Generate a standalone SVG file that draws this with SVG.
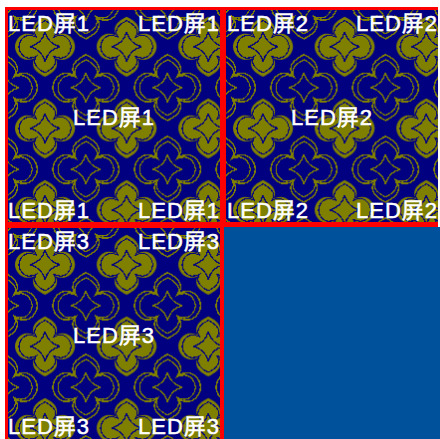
<svg xmlns="http://www.w3.org/2000/svg" width="440" height="439" viewBox="0 0 440 439">
<style>
text{font-family:"Liberation Sans","Noto Sans CJK SC",sans-serif;font-size:22px;fill:#fff;letter-spacing:1px;stroke:#fff;stroke-width:.5px}
.o{fill:none;stroke:#808000;stroke-width:1.3;shape-rendering:crispEdges}
.n{fill:none;stroke:#000080;stroke-width:1.3;shape-rendering:crispEdges}
</style>
<defs>
<path id="q" d="M0,-30C6,-27 12,-23 12,-17C12,-14 11,-13 10,-11C12,-12 14,-13 18,-13C25,-13 30,-6 30,0C30,6 25,13 18,13C14,13 12,12 10,11C11,13 12,14 12,17C12,23 6,27 0,30C-6,27 -12,23 -12,17C-12,14 -11,13 -10,11C-12,12 -14,13 -18,13C-25,13 -30,6 -30,0C-30,-6 -25,-13 -18,-13C-14,-13 -12,-12 -10,-11C-11,-13 -12,-14 -12,-17C-12,-23 -6,-27 0,-30Z"/>
<path id="s" d="M0,-15C2,-7 7,-2 15,0C7,2 2,7 0,15C-2,7 -7,2 -15,0C-7,-2 -2,-7 0,-15Z"/>
<g id="ring"><use href="#q" class="o" transform="scale(1.1)"/><use href="#q" class="o" transform="scale(.93)"/><use href="#s" class="o"/></g>
<pattern id="tile" width="81.67" height="81.67" patternUnits="userSpaceOnUse" x="8" y="10">
<rect width="82" height="82" fill="#000080"/>
<g transform="translate(37,36.7)">
<use href="#q" fill="#808000"/>
<use href="#q" class="n" transform="scale(.87)"/>
<use href="#s" class="n"/>
</g>
<use href="#ring" x="-3.8" y="-4.1"/>
<use href="#ring" x="77.87" y="-4.1"/>
<use href="#ring" x="-3.8" y="77.57"/>
<use href="#ring" x="77.87" y="77.57"/>
</pattern>
</defs>
<rect width="440" height="439" fill="#fff"/>
<rect x="5" y="7" width="433" height="432" fill="#ff0000"/>
<rect x="224" y="227" width="216" height="212" fill="#00519b"/>
<g id="screen1">
<rect x="8" y="10" width="212" height="212" fill="url(#tile)"/>
<text x="8" y="31">LED屏1</text><text x="138" y="31">LED屏1</text><text x="73" y="125">LED屏1</text><text x="8" y="218">LED屏1</text><text x="138" y="218">LED屏1</text>
</g>
<g id="screen2">
<g transform="translate(218,0)"><rect x="8" y="10" width="212" height="212" fill="url(#tile)"/></g>
<text x="227" y="31">LED屏2</text><text x="356" y="31">LED屏2</text><text x="291" y="125">LED屏2</text><text x="227" y="218">LED屏2</text><text x="356" y="218">LED屏2</text>
</g>
<g id="screen3">
<g transform="translate(0,218)"><rect x="8" y="10" width="212" height="211" fill="url(#tile)"/></g>
<text x="8" y="249">LED屏3</text><text x="138" y="249">LED屏3</text><text x="73" y="343">LED屏3</text><text x="8" y="434">LED屏3</text><text x="138" y="434">LED屏3</text>
</g>
</svg>
